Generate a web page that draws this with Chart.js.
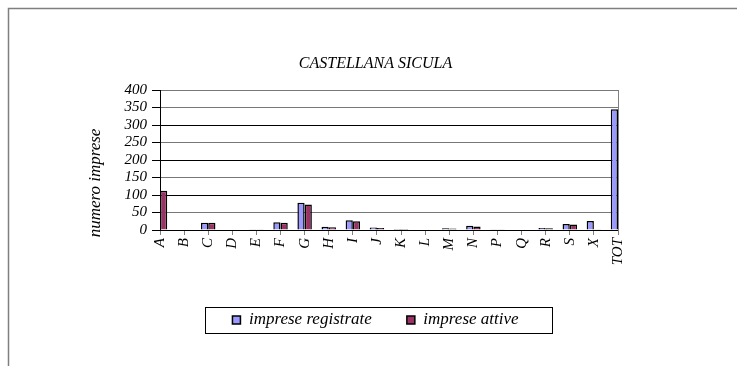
<!DOCTYPE html>
<html>
<head>
<meta charset="utf-8">
<script src="https://cdn.jsdelivr.net/npm/chart.js@4/dist/chart.umd.min.js"></script>
<style>
  html, body { margin: 0; padding: 0; background: #fff; }
  canvas { display: block; }
</style>
</head>
<body>
<canvas id="chart" width="737" height="366"></canvas>
<script>
"use strict";

const categories = ["A", "B", "C", "D", "E", "F", "G", "H", "I", "J", "K", "L", "M", "N", "P", "Q", "R", "S", "X", "TOT"];
const impreseRegistrate = [115, 0, 21, 0, 2, 22, 78, 9, 28, 7, 3, 0, 5, 12, 2, 0, 6, 17, 26, 345];
const impreseAttive = [112, 0, 21, 0, 1, 21, 73, 8, 25, 6, 3, 0, 4, 10, 1, 0, 5, 16, 1, 307];
const yTicks = [0, 50, 100, 150, 200, 250, 300, 350, 400];

const serif = "'Liberation Serif', 'Times New Roman', serif";

// frame round the whole chart, white background
const framePlugin = {
  id: "frame",
  beforeDraw(chart) {
    const ctx = chart.ctx;
    ctx.save();
    ctx.fillStyle = "#fff";
    ctx.fillRect(0, 0, chart.width, chart.height);
    ctx.strokeStyle = "#7f7f7f";
    ctx.lineWidth = 1.5;
    ctx.beginPath();
    ctx.moveTo(8.5, chart.height);
    ctx.lineTo(8.5, 8.5);
    ctx.lineTo(chart.width, 8.5);
    ctx.stroke();
    ctx.restore();
  },
  afterDraw(chart) {
    const ctx = chart.ctx;
    const boxes = chart.legend.legendHitBoxes;
    if (!boxes || !boxes.length) return;
    const first = boxes[0];
    const last = boxes[boxes.length - 1];
    const cy = first.top + first.height / 2;
    const x0 = Math.round(first.left - 27) + 0.5;
    const x1 = Math.round(last.left + last.width + 33) + 0.5;
    ctx.save();
    ctx.strokeStyle = "#000";
    ctx.lineWidth = 1;
    ctx.strokeRect(x0, Math.round(cy - 13) + 0.5, x1 - x0, 26);
    // y axis title
    ctx.fillStyle = "#000";
    ctx.font = "italic 17px " + serif;
    ctx.textAlign = "center";
    ctx.textBaseline = "middle";
    ctx.translate(96, 183);
    ctx.rotate(-Math.PI / 2);
    ctx.fillText("numero imprese", 0, 0);
    ctx.restore();
  }
};

function renderChart() {
  const canvasElem = document.getElementById("chart");

  let chartObj = {
    type: "bar",
    data: {
      labels: categories,
      datasets: [
        {
          label: "imprese registrate",
          data: impreseRegistrate,
          backgroundColor: "#9999ff",
          borderColor: "#000",
          borderWidth: 1.5,
          categoryPercentage: 0.6,
          barPercentage: 1,
          clip: 0,
        },
        {
          label: "imprese attive",
          data: impreseAttive,
          backgroundColor: "#993366",
          borderColor: "#000",
          borderWidth: 1.5,
          categoryPercentage: 0.6,
          barPercentage: 1,
          clip: 0,
        },
      ],
    },
    options: {
      responsive: false,
      animation: false,
      devicePixelRatio: 1,
      layout: {
        padding: { left: 14, right: 0, top: 0, bottom: 27.5 },
      },
      scales: {
        x: {
          offset: false,
          grid: {
            drawOnChartArea: false,
            offset: false,
            tickLength: 5,
            tickColor: "#808080",
          },
          border: { color: "#000" },
          ticks: {
            autoSkip: false,
            minRotation: 90,
            maxRotation: 90,
            padding: 3,
            color: "#000",
            font: { family: serif, style: "italic", size: 15 },
          },
          afterFit(scale) {
            scale.height = 46.5;
          },
        },
        y: {
          min: 0,
          max: 400,
          afterBuildTicks(scale) {
            scale.ticks = yTicks.map((v) => ({ value: v }));
          },
          grid: {
            color(c) {
              const v = c.tick ? c.tick.value : 0;
              return v % 100 === 0 && v !== 400 ? "#000" : "#777";
            },
            tickColor: "#000",
            tickLength: 8,
          },
          border: { color: "#000" },
          ticks: {
            autoSkip: false,
            padding: 5,
            color: "#000",
            font: { family: serif, style: "italic", size: 15, lineHeight: 1 },
          },
          afterFit(scale) {
            scale.width = 146;
          },
        },
        y2: {
          position: "right",
          grid: { display: false, drawTicks: false },
          border: { display: true, color: "#808080" },
          ticks: { display: false },
          afterFit(scale) {
            scale.width = 119;
          },
        },
      },
      plugins: {
        title: {
          display: true,
          text: "CASTELLANA SICULA",
          color: "#000",
          font: { family: serif, style: "italic", size: 16, weight: "normal" },
          padding: { top: 54, bottom: 16.8 },
        },
        legend: {
          position: "bottom",
          labels: {
            color: "#000",
            boxWidth: 8,
            boxHeight: 8,
            padding: 35,
            font: { family: serif, style: "italic", size: 17 },
          },
        },
        tooltip: { enabled: false },
      },
    },
    plugins: [framePlugin],
  };
  new Chart(canvasElem, chartObj);
}

renderChart();
</script>
</body>
</html>
